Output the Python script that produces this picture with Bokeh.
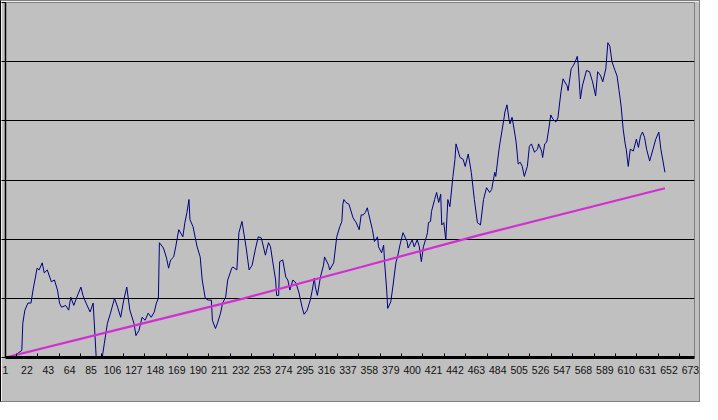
from bokeh.plotting import figure
from bokeh.models import FixedTicker, Range1d
from bokeh.embed import file_html
from bokeh.resources import INLINE

# x-axis tick labels (category numbers)
x_ticks = [1, 22, 43, 64, 85, 106, 127, 148, 169, 190, 211, 232, 253, 274, 295, 316,
           337, 358, 379, 400, 421, 442, 463, 484, 505, 526, 547, 568, 589, 610, 631, 652, 673]

navy_x = [1, 4, 9, 13, 17, 18, 20, 23, 26, 28, 32, 34, 37, 39, 42, 46, 49, 52, 54, 56,
          60, 63, 65, 68, 71, 75, 77, 80, 84, 87, 90, 92, 95, 98, 101, 104, 108, 111, 114, 117,
          120, 123, 127, 129, 132, 135, 138, 141, 144, 147, 149, 151, 152, 156, 159, 161, 163, 166, 168, 171,
          175, 177, 179, 181, 182, 185, 189, 192, 194, 197, 200, 203, 204, 207, 209, 212, 214, 217, 219, 223,
          224, 228, 230, 233, 237, 240, 243, 246, 249, 252, 256, 259, 261, 264, 266, 267, 269, 270, 273, 276,
          278, 280, 283, 286, 289, 292, 294, 297, 300, 302, 304, 305, 307, 310, 313, 314, 318, 319, 323, 326,
          329, 331, 332, 333, 335, 338, 342, 345, 348, 350, 352, 354, 356, 357, 361, 363, 366, 367, 370, 372,
          373, 375, 376, 379, 381, 384, 386, 388, 391, 395, 396, 400, 402, 405, 407, 409, 411, 414, 415, 416,
          418, 419, 422, 424, 426, 428, 429, 431, 433, 435, 437, 440, 442, 443, 447, 450, 452, 455, 458, 461,
          464, 467, 470, 473, 476, 478, 481, 482, 485, 486, 490, 491, 493, 495, 496, 498, 500, 502, 504, 506,
          508, 510, 513, 515, 517, 520, 523, 524, 527, 528, 530, 532, 534, 536, 538, 541, 543, 544, 546, 548,
          552, 553, 556, 558, 560, 562, 563, 565, 567, 571, 574, 577, 580, 582, 585, 587, 590, 592, 594, 596,
          599, 601, 603, 605, 607, 609, 610, 612, 614, 617, 620, 622, 624, 626, 628, 630, 633, 635, 639, 642,
          644, 648]
navy_y = [0.00, -0.10, -0.05, 0.07, 0.12, 0.58, 0.80, 0.92, 0.92, 1.14, 1.51, 1.48, 1.60, 1.43, 1.48, 1.28, 1.31, 1.14, 0.92, 0.85,
          0.88, 0.80, 1.02, 0.88, 1.02, 1.19, 1.05, 0.92, 0.77, 0.92, 0.00, -0.17, -0.10, 0.24, 0.58, 0.75, 1.00, 0.85, 0.68, 0.97,
          1.19, 0.80, 0.58, 0.37, 0.46, 0.68, 0.63, 0.75, 0.68, 0.77, 0.92, 1.00, 1.94, 1.85, 1.68, 1.51, 1.65, 1.70, 1.87, 2.16,
          2.04, 2.28, 2.45, 2.67, 2.33, 2.21, 1.87, 1.70, 1.31, 1.00, 0.97, 0.97, 0.63, 0.49, 0.58, 0.75, 0.92, 1.02, 1.31, 1.51,
          1.53, 1.48, 2.11, 2.30, 1.87, 1.48, 1.56, 1.82, 2.04, 2.02, 1.73, 1.94, 1.87, 1.53, 1.31, 1.05, 1.05, 1.62, 1.65, 1.36,
          1.31, 1.14, 1.31, 1.26, 1.09, 0.85, 0.73, 0.80, 0.97, 1.14, 1.34, 1.19, 1.05, 1.36, 1.56, 1.70, 1.56, 1.48, 1.60, 2.04,
          2.21, 2.30, 2.59, 2.67, 2.62, 2.59, 2.36, 2.28, 2.16, 2.41, 2.41, 2.45, 2.53, 2.45, 2.16, 1.96, 2.04, 1.87, 1.77, 1.90,
          1.60, 1.14, 0.83, 0.94, 1.19, 1.60, 1.73, 1.90, 2.11, 1.96, 1.85, 1.99, 1.87, 1.99, 1.87, 1.62, 1.87, 2.04, 2.11, 2.28,
          2.30, 2.47, 2.67, 2.79, 2.62, 2.76, 2.24, 2.28, 1.99, 2.67, 2.55, 3.06, 3.35, 3.61, 3.38, 3.35, 3.23, 3.44, 3.13, 2.67,
          2.28, 2.24, 2.67, 2.87, 2.79, 2.84, 3.13, 3.06, 3.49, 3.61, 4.03, 4.15, 4.27, 4.03, 3.95, 4.06, 3.86, 3.64, 3.27, 3.30,
          3.23, 3.06, 3.23, 3.57, 3.61, 3.47, 3.52, 3.61, 3.49, 3.38, 3.61, 3.64, 3.86, 4.10, 4.03, 3.98, 4.05, 4.20, 4.49, 4.71,
          4.59, 4.51, 4.88, 4.93, 5.00, 5.09, 4.93, 4.37, 4.59, 4.85, 4.83, 4.66, 4.42, 4.83, 4.76, 4.66, 4.88, 5.32, 5.26, 5.00,
          4.85, 4.76, 4.51, 4.25, 3.86, 3.61, 3.52, 3.23, 3.52, 3.49, 3.69, 3.55, 3.74, 3.81, 3.72, 3.52, 3.32, 3.44, 3.69, 3.81,
          3.52, 3.13]

# magenta trend series
trend_x = [1, 120, 235, 350, 464, 648]
trend_y = [0.00, 0.51, 1.00, 1.53, 2.06, 2.86]

y_ticks = [0, 1, 2, 3, 4, 5, 6]

p = figure(width=700, height=402, output_backend="svg", toolbar_location=None,
           x_range=Range1d(1, 677), y_range=Range1d(0, 6),
           min_border_left=0, min_border_right=7, min_border_top=1, min_border_bottom=46)
p.styles = {"border-top": "1px solid #808080", "border-right": "1px solid #808080",
            "border-bottom": "1px solid #808080", "border-left": "1px solid #000000"}

p.background_fill_color = "#C0C0C0"
p.border_fill_color = "#C0C0C0"
p.outline_line_color = "#808080"
p.outline_line_width = 1

p.line(navy_x, navy_y, line_color="#000080", line_width=1)
p.line(trend_x, trend_y, line_color="#D22ED2", line_width=2.2)

# x axis
minor = [t + 10.5 for t in x_ticks[:-1]]
p.xaxis.ticker = FixedTicker(ticks=x_ticks, minor_ticks=minor)
p.xaxis.axis_line_color = "black"
p.xaxis.axis_line_width = 3
p.xaxis.major_tick_in = 0
p.xaxis.major_tick_out = 0
p.xaxis.minor_tick_in = 4
p.xaxis.minor_tick_out = 0
p.xaxis.minor_tick_line_color = "black"
p.xaxis.major_label_standoff = 8
p.xaxis.major_label_text_font = "Liberation Sans"
p.xaxis.major_label_text_font_size = "10.5px"
p.xaxis.major_label_text_color = "#111111"

# y axis (no labels)
p.yaxis.ticker = FixedTicker(ticks=y_ticks)
p.yaxis.axis_line_color = "black"
p.yaxis.axis_line_width = 1.5
p.yaxis.major_tick_in = 0
p.yaxis.major_tick_out = 4
p.yaxis.major_tick_line_color = "black"
p.yaxis.minor_tick_line_color = None
p.yaxis.major_label_overrides = {t: "" for t in y_ticks}
p.yaxis.major_label_standoff = 0

p.xgrid.grid_line_color = None
p.ygrid.ticker = FixedTicker(ticks=y_ticks)
p.ygrid.grid_line_color = "black"
p.ygrid.grid_line_width = 1

open("out.html", "w").write(file_html(p, INLINE))
